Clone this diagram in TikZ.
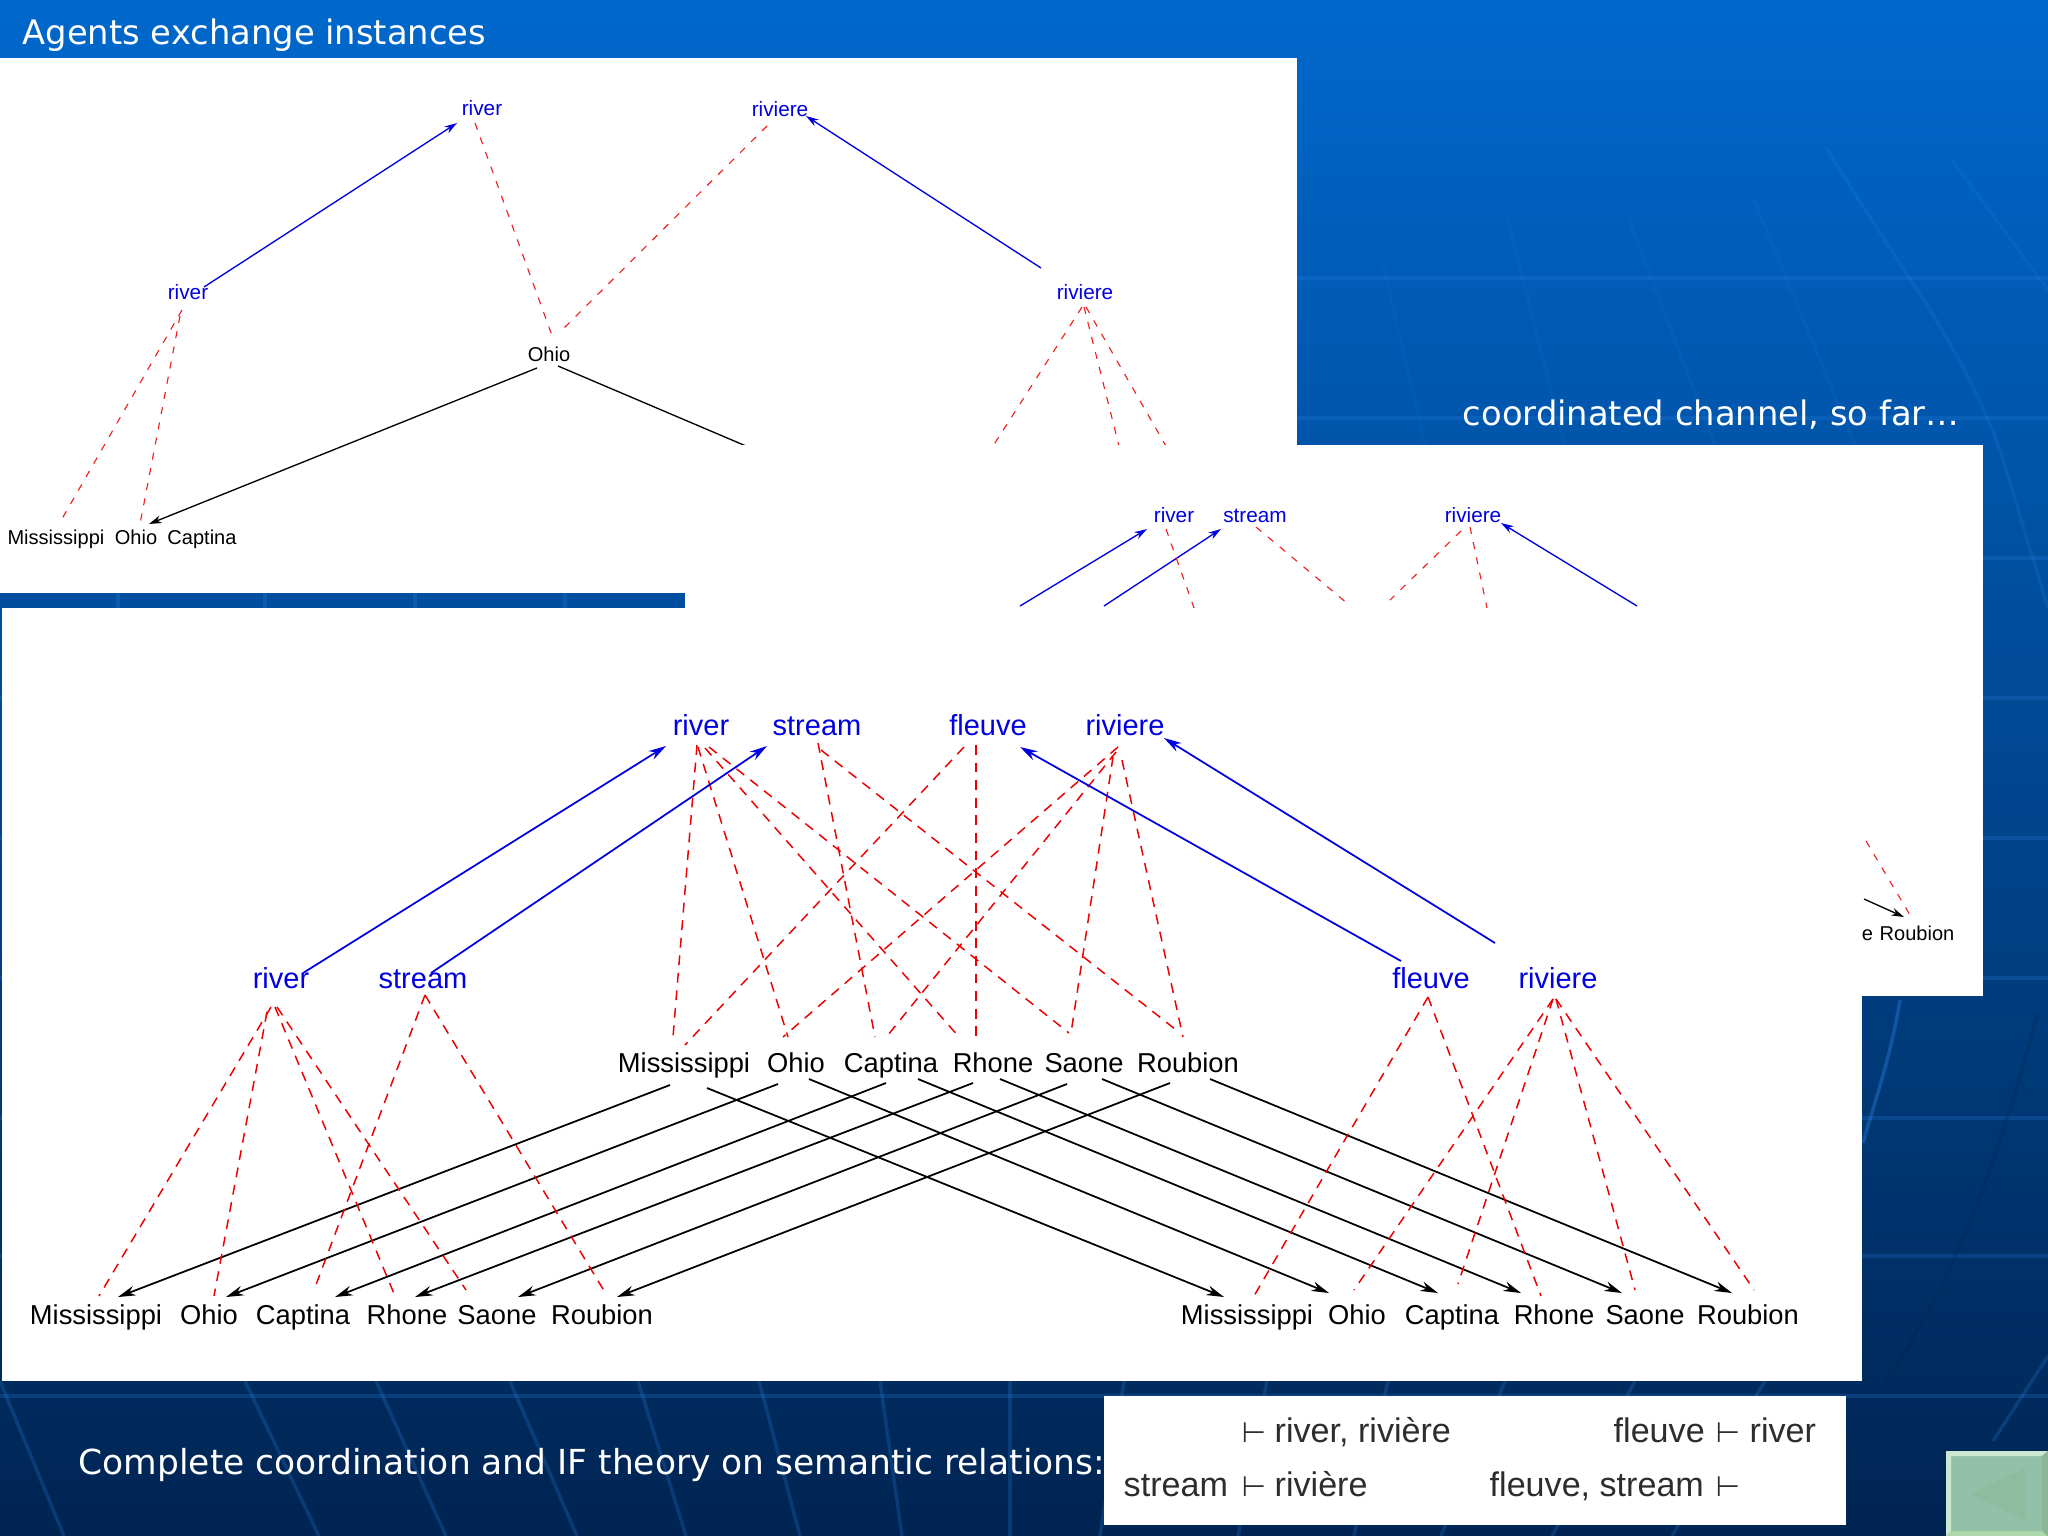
\documentclass[tikz,border=0pt]{standalone}
\usepackage{fontspec}
\setmainfont{Liberation Sans}
\newfontfamily\slidefont{DejaVu Sans}
\usetikzlibrary{arrows.meta}
\definecolor{bgtop}{RGB}{0,104,204}
\definecolor{bgmid}{RGB}{0,74,150}
\definecolor{bgbot}{RGB}{0,36,82}
\definecolor{gridc}{RGB}{50,135,235}
\definecolor{lblue}{RGB}{0,0,225}
\definecolor{lred}{RGB}{238,0,0}
\definecolor{tgray}{RGB}{45,45,45}
\definecolor{btnface}{RGB}{146,192,168}
\definecolor{btntri}{RGB}{142,188,158}
\definecolor{btnlight}{RGB}{205,232,208}
\definecolor{btnlow}{RGB}{172,216,172}
\definecolor{btnright}{RGB}{140,180,150}
\tikzset{
  lbl/.style={inner sep=0pt,anchor=center,text height=4pt,text depth=0pt},
  smallblack/.style={lbl,font=\fontsize{5.7}{6}\selectfont,text=black},
  smallblue/.style={lbl,font=\fontsize{5.9}{6}\selectfont,text=lblue},
  mainblack/.style={lbl,text height=5.5pt,font=\fontsize{7.77}{8}\selectfont,text=black},
  mainblue/.style={lbl,text height=5.5pt,font=\fontsize{8.25}{9}\selectfont,text=lblue},
  slidetext/.style={inner sep=0pt,text=white,font=\slidefont\fontsize{9.6}{11}\selectfont,text height=7pt,text depth=2pt},
  rel/.style={inner sep=0pt,anchor=west,text=tgray,font=\fontsize{9.7}{11}\selectfont,text height=7pt,text depth=2pt},
  turn/.style={inner sep=0pt,anchor=west,text=tgray,font=\slidefont\fontsize{8}{11}\selectfont,text height=7pt,text depth=2pt},
  panel/.style={fill=white,draw=none},
  reda/.style={draw=lred,line width=0.42pt,dash pattern=on 2.8pt off 2.2pt},
  redb/.style={draw=lred!88!white,line width=0.32pt,dash pattern=on 2pt off 2.4pt},
  bluea/.style={draw=lblue,line width=0.5pt,-{Stealth[length=5pt,width=2.8pt]}},
  blueb/.style={draw=lblue,line width=0.38pt,-{Stealth[length=3.6pt,width=2.2pt]}},
  blacka/.style={draw=black,line width=0.5pt,-{Stealth[length=5pt,width=2.8pt]}},
  blackb/.style={draw=black,line width=0.38pt,-{Stealth[length=3.6pt,width=2.2pt]}},
  gridl/.style={draw=gridc,line width=1pt,opacity=.22},
}
\begin{document}
\begin{tikzpicture}[x=0.01cm,y=-0.01cm]
\useasboundingbox (0,0) rectangle (2048,1536);
\clip (0,0) rectangle (2048,1536);
% background
\fill[top color=bgtop,bottom color=bgmid] (0,0) rectangle (2048,701);
\fill[top color=bgmid,bottom color=bgbot] (0,700) rectangle (2048,1536);
% background grid
\foreach \yy in {278,418,558,698,838,978,1118,1256,1396}
  \draw[gridl] (0,\yy) -- (2048,\yy);
\draw[gridl,opacity=.07] (1382,260) -- (1425,445);
\draw[gridl,opacity=.09] (1507,217) -- (1565,445);
\draw[gridl,opacity=.09] (1628,217) -- (1715,445);
\draw[gridl,opacity=.09] (1754,200) -- (1855,445);
\draw[gridl,opacity=.16] (1826,147) .. controls (1900,270) and (1960,340) .. (2000,450) -- (2048,608);
\draw[gridl,opacity=.12] (1952,160) -- (2048,290);
\draw[gridl,opacity=.35] (1900,1000) .. controls (1890,1060) and (1875,1100) .. (1863,1143);
\draw[draw=bgbot,line width=1pt,opacity=.25] (2037,1014) .. controls (1990,1200) and (1930,1320) .. (1883,1386);
\draw[gridl] (2048,1356) -- (1993,1441);
\foreach \xa/\xb in {118/118,265/265,415/415,565/565}
  \draw[gridl] (\xa,593) -- (\xb,608);
\foreach \xa/\xb in {0/64,245/319,376/446,510/577,638/686,759/800,880/902,1010/1010,1124/1100,1267/1238,1388/1354,1505/1441,1635/1552,1765/1672}
  \draw[gridl] (\xa,1381) -- (\xb,1536);
% captions on the slide
\node[slidetext,anchor=west] (title) at (22,36) {Agents exchange instances};
\node[slidetext,anchor=east] (channel) at (1960,417) {coordinated channel, so far…};

% ---------- first panel ----------
\fill[panel] (0,58) rectangle (1297,593);
\node[smallblue] (aRiver) at (482,108) {river};
\node[smallblue] (aRiviere) at (780,109) {riviere};
\node[smallblue] (aRiver2) at (188,292) {river};
\node[smallblue] (aRiviere2) at (1085,292) {riviere};
\node[smallblack] (aOhio) at (549,354) {Ohio};
\node[smallblack] (aMiss) at (56,537) {Mississippi};
\node[smallblack] (aOhioL) at (136,537) {Ohio};
\node[smallblack] (aCapt) at (202,537) {Captina};
\coordinate (aCutA) at (746,446);
\coordinate (aCutB) at (993,446);
\coordinate (aCutC) at (1119,446);
\coordinate (aCutD) at (1166,446);
\draw[blueb] ([shift={(16,-5)}]aRiver2.center) -- ([shift={(-25,15)}]aRiver.center);
\draw[blueb] ([shift={(-44,-24)}]aRiviere2.center) -- ([shift={(26,7)}]aRiviere.center);
\draw[redb] ([shift={(-7,15)}]aRiver.center) -- ([shift={(5,-13)}]aOhio.center);
\draw[redb] ([shift={(-13,17)}]aRiviere.center) -- ([shift={(11,-22)}]aOhio.center);
\draw[redb] ([shift={(-6,18)}]aRiver2.center) -- ([shift={(3,-13)}]aMiss.center);
\draw[redb] ([shift={(-8,24)}]aRiver2.center) -- ([shift={(4,-13)}]aOhioL.center);
\draw[blackb] ([shift={(-12,14)}]aOhio.center) -- ([shift={(13,-13)}]aOhioL.center);
\draw[black,line width=0.38pt] ([shift={(9,12)}]aOhio.center) -- (aCutA);
\draw[redb] ([shift={(-3,15)}]aRiviere2.center) -- (aCutB);
\draw[redb] ([shift={(-1,15)}]aRiviere2.center) -- (aCutC);
\draw[redb] ([shift={(1,15)}]aRiviere2.center) -- (aCutD);

% ---------- second panel ----------
\fill[panel] (685,445) rectangle (1983,996);
\node[smallblue] (bRiver) at (1174,515) {river};
\node[smallblue] (bStream) at (1255,515) {stream};
\node[smallblue] (bRiviere) at (1473,515) {riviere};
\node[smallblack] (bSaone) at (1844,933) {Saone};
\node[smallblack] (bRoubion) at (1917,933) {Roubion};
\coordinate (bCutA) at (1020,606);
\coordinate (bCutB) at (1104,606);
\coordinate (bCutC) at (1637,606);
\coordinate (bCutD) at (1194,608);
\coordinate (bCutE) at (1348,604);
\coordinate (bCutF) at (1390,600);
\coordinate (bCutG) at (1487,608);
\coordinate (bCutH) at (1866,841);
\coordinate (bCutI) at (1864,899);
\draw[blueb] (bCutA) -- ([shift={(-27,14)}]bRiver.center);
\draw[blueb] (bCutB) -- ([shift={(-34,14)}]bStream.center);
\draw[blueb] (bCutC) -- ([shift={(28,8)}]bRiviere.center);
\draw[redb] ([shift={(-8,14)}]bRiver.center) -- (bCutD);
\draw[redb] ([shift={(1,12)}]bStream.center) -- (bCutE);
\draw[redb] ([shift={(-12,16)}]bRiviere.center) -- (bCutF);
\draw[redb] ([shift={(-3,12)}]bRiviere.center) -- (bCutG);
\draw[redb] (bCutH) -- ([shift={(-7,-18)}]bRoubion.center);
\draw[blackb] (bCutI) -- ([shift={(-13,-16)}]bRoubion.center);

% ---------- third panel ----------
\fill[panel] (2,608) rectangle (1862,1381);
\node[mainblue] (cRiver) at (701,726) {river};
\node[mainblue] (cStream) at (817,726) {stream};
\node[mainblue] (cFleuve) at (988,726) {fleuve};
\node[mainblue] (cRiviere) at (1125,726) {riviere};
\node[mainblue] (dRiver) at (281,979) {river};
\node[mainblue] (dStream) at (423,979) {stream};
\node[mainblue] (dFleuve) at (1431,979) {fleuve};
\node[mainblue] (dRiviere) at (1558,979) {riviere};
\node[mainblack] (mMiss) at (684,1063) {Mississippi};
\node[mainblack] (mOhio) at (796,1063) {Ohio};
\node[mainblack] (mCapt) at (891,1063) {Captina};
\node[mainblack] (mRhone) at (993,1063) {Rhone};
\node[mainblack] (mSaone) at (1084,1063) {Saone};
\node[mainblack] (mRoub) at (1188,1063) {Roubion};
\node[mainblack] (lMiss) at (96,1315) {Mississippi};
\node[mainblack] (lOhio) at (209,1315) {Ohio};
\node[mainblack] (lCapt) at (303,1315) {Captina};
\node[mainblack] (lRhone) at (407,1315) {Rhone};
\node[mainblack] (lSaone) at (497,1315) {Saone};
\node[mainblack] (lRoub) at (602,1315) {Roubion};
\node[mainblack] (rMiss) at (1247,1315) {Mississippi};
\node[mainblack] (rOhio) at (1357,1315) {Ohio};
\node[mainblack] (rCapt) at (1452,1315) {Captina};
\node[mainblack] (rRhone) at (1554,1315) {Rhone};
\node[mainblack] (rSaone) at (1645,1315) {Saone};
\node[mainblack] (rRoub) at (1748,1315) {Roubion};
% black instance arrows
\draw[blacka] ([shift={(-14,22)}]mMiss.center) -- ([shift={(22,-18)}]lMiss.center);
\draw[blacka] ([shift={(-18,21)}]mOhio.center) -- ([shift={(17,-18)}]lOhio.center);
\draw[blacka] ([shift={(-5,20)}]mCapt.center) -- ([shift={(32,-18)}]lCapt.center);
\draw[blacka] ([shift={(-20,20)}]mRhone.center) -- ([shift={(8,-18)}]lRhone.center);
\draw[blacka] ([shift={(-17,21)}]mSaone.center) -- ([shift={(21,-18)}]lSaone.center);
\draw[blacka] ([shift={(-18,20)}]mRoub.center) -- ([shift={(15,-18)}]lRoub.center);
\draw[blacka] ([shift={(23,25)}]mMiss.center) -- ([shift={(-23,-18)}]rMiss.center);
\draw[blacka] ([shift={(13,16)}]mOhio.center) -- ([shift={(-28,-22)}]rOhio.center);
\draw[blacka] ([shift={(27,16)}]mCapt.center) -- ([shift={(-14,-22)}]rCapt.center);
\draw[blacka] ([shift={(7,16)}]mRhone.center) -- ([shift={(-33,-22)}]rRhone.center);
\draw[blacka] ([shift={(18,16)}]mSaone.center) -- ([shift={(-23,-22)}]rSaone.center);
\draw[blacka] ([shift={(22,16)}]mRoub.center) -- ([shift={(-16,-22)}]rRoub.center);
% red relations, centre
\draw[reda] ([shift={(-4,19)}]cRiver.center) -- ([shift={(-11,-26)}]mMiss.center);
\draw[reda] ([shift={(-3,21)}]cRiver.center) -- ([shift={(-8,-26)}]mOhio.center);
\draw[reda] ([shift={(4,22)}]cRiver.center) -- ([shift={(-34,-26)}]mRhone.center);
\draw[reda] ([shift={(8,21)}]cRiver.center) -- ([shift={(-15,-30)}]mSaone.center);
\draw[reda] ([shift={(1,17)}]cStream.center) -- ([shift={(-16,-26)}]mCapt.center);
\draw[reda] ([shift={(4,24)}]cStream.center) -- ([shift={(-8,-30)}]mRoub.center);
\draw[reda] ([shift={(-24,21)}]cFleuve.center) -- ([shift={(1,-18)}]mMiss.center);
\draw[reda] ([shift={(-12,19)}]cFleuve.center) -- ([shift={(-17,-26)}]mRhone.center);
\draw[reda] ([shift={(-7,21)}]cRiviere.center) -- ([shift={(-13,-26)}]mOhio.center);
\draw[reda] ([shift={(-9,26)}]cRiviere.center) -- ([shift={(-3,-28)}]mCapt.center);
\draw[reda] ([shift={(-12,31)}]cRiviere.center) -- ([shift={(-13,-30)}]mSaone.center);
\draw[reda] ([shift={(-3,34)}]cRiviere.center) -- ([shift={(-5,-26)}]mRoub.center);
% red relations, left
\draw[reda] ([shift={(-10,28)}]dRiver.center) -- ([shift={(3,-19)}]lMiss.center);
\draw[reda] ([shift={(-14,33)}]dRiver.center) -- ([shift={(5,-19)}]lOhio.center);
\draw[reda] ([shift={(-6,28)}]dRiver.center) -- ([shift={(-12,-19)}]lRhone.center);
\draw[reda] ([shift={(-4,28)}]dRiver.center) -- ([shift={(-31,-25)}]lSaone.center);
\draw[reda] ([shift={(2,16)}]dStream.center) -- ([shift={(11,-25)}]lCapt.center);
\draw[reda] ([shift={(2,16)}]dStream.center) -- ([shift={(4,-21)}]lRoub.center);
% red relations, right
\draw[reda] ([shift={(-3,18)}]dFleuve.center) -- ([shift={(7,-19)}]rMiss.center);
\draw[reda] ([shift={(-3,18)}]dFleuve.center) -- ([shift={(-13,-19)}]rRhone.center);
\draw[reda] ([shift={(-5,20)}]dRiviere.center) -- ([shift={(-3,-25)}]rOhio.center);
\draw[reda] ([shift={(-5,20)}]dRiviere.center) -- ([shift={(6,-31)}]rCapt.center);
\draw[reda] ([shift={(-2,20)}]dRiviere.center) -- ([shift={(-10,-25)}]rSaone.center);
\draw[reda] ([shift={(-2,20)}]dRiviere.center) -- ([shift={(6,-25)}]rRoub.center);
% blue arrows
\draw[bluea] ([shift={(22,-6)}]dRiver.center) -- ([shift={(-35,20)}]cRiver.center);
\draw[bluea] ([shift={(8,-6)}]dStream.center) -- ([shift={(-50,20)}]cStream.center);
\draw[bluea] ([shift={(-30,-18)}]dFleuve.center) -- ([shift={(32,21)}]cFleuve.center);
\draw[bluea] ([shift={(-63,-36)}]dRiviere.center) -- ([shift={(39,12)}]cRiviere.center);

% ---------- bottom line ----------
\node[slidetext,anchor=west,font=\slidefont\fontsize{9.8}{11}\selectfont] (complete) at (78,1466) {Complete coordination and IF theory on semantic relations:};
\fill[panel] (1104,1396) rectangle (1846,1525);
\node[turn] (ta) at (1241,1434) {⊢};
\node[rel] (ra) at (1274,1434) {river, rivière};
\node[rel] (rb) at (1613,1434) {fleuve};
\node[turn] (tb) at (1715,1434) {⊢};
\node[rel] (rc) at (1749,1434) {river};
\node[rel] (rd) at (1123,1488) {stream};
\node[turn] (tc) at (1241,1488) {⊢};
\node[rel] (re) at (1274,1488) {rivière};
\node[rel] (rf) at (1489,1488) {fleuve, stream};
\node[turn] (td) at (1715,1488) {⊢};

% ---------- back button ----------
\fill[btnface] (1946,1451) rectangle (2048,1536);
\fill[btnlight] (1946,1451) -- (2048,1451) -- (2042,1456) -- (1951,1456) -- (1951,1531) -- (1946,1536) -- cycle;
\fill[btnlow] (1946,1536) -- (1951,1531) -- (2042,1531) -- (2048,1536) -- cycle;
\fill[btnright] (2048,1451) -- (2048,1536) -- (2042,1531) -- (2042,1456) -- cycle;
\fill[btntri] (1970,1494) -- (2025,1468) -- (2025,1520) -- cycle;
\end{tikzpicture}
\end{document}
